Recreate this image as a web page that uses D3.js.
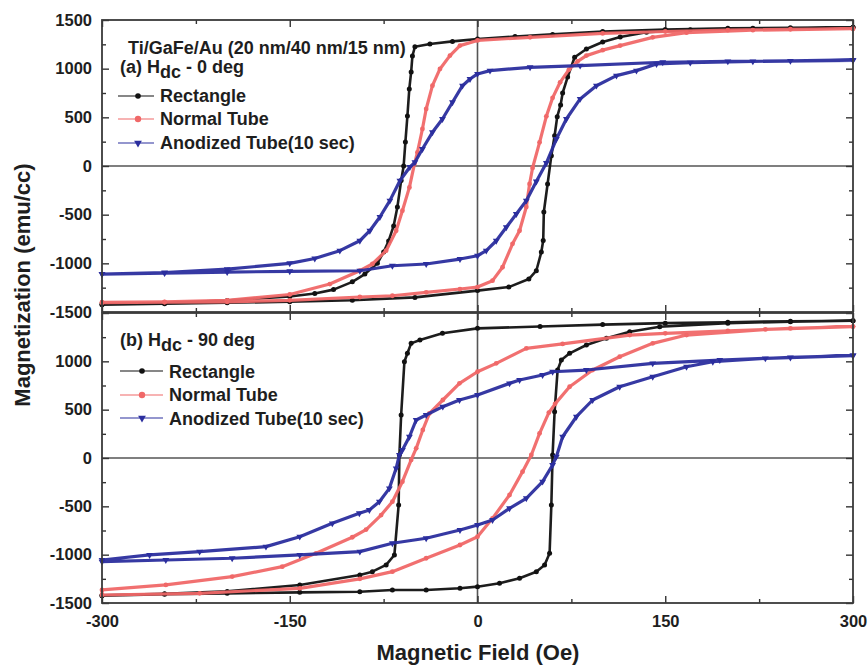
<!DOCTYPE html>
<html><head><meta charset="utf-8">
<script src="https://cdn.jsdelivr.net/npm/d3@7"></script>
<style>
body{margin:0;background:#fff}
text{font-family:"Liberation Sans",Arial,sans-serif;font-weight:bold;fill:#1e1e1e}
</style>
</head><body>
<svg id="c" width="868" height="667"></svg>
<script>
// ---------- tick values ----------
const xTicks = [-300, -150, 0, 150, 300];
const xMinor = [-225, -75, 75, 225];
const yTicks = [-1500, -1000, -500, 0, 500, 1000, 1500];
const yMinor = [-1250, -750, -250, 250, 750, 1250];
const seriesNames = ["Rectangle", "Normal Tube", "Anodized Tube(10 sec)"];

// ---------- panel (a) H_dc 0 deg : [field Oe, magnetization emu/cc] ----------
const aRectDown = [[300,1425],[250,1420],[200,1415],[150,1402],[100,1382],[60,1352],[30,1330],[0,1305],[-20,1280],[-38,1254],[-50,1225],[-52,1130],[-53,966],[-54.5,790],[-56,514],[-57.6,247],[-59,0],[-61,-150],[-64,-421],[-67,-616],[-71,-770],[-75,-884],[-80,-1000],[-90,-1110],[-100,-1190],[-115,-1270],[-130,-1310],[-150,-1340],[-200,-1382],[-250,-1405],[-300,-1420]];
const aRectUp = [[-300,-1425],[-250,-1415],[-200,-1405],[-150,-1395],[-100,-1380],[-50,-1350],[0,-1280],[25,-1244],[41,-1161],[47,-1076],[51,-884],[52.5,-765],[53,-473],[56,-185],[59,106],[61.6,311],[63.7,507],[66.4,627],[68,750],[72,914],[77.6,1117],[87,1202],[100,1274],[114,1326],[135,1374],[170,1400],[220,1415],[300,1425]];
const aNormDown = [[300,1410],[250,1405],[200,1395],[150,1382],[100,1362],[42,1322],[0,1290],[-14,1237],[-22,1134],[-30,997],[-36,825],[-41,586],[-44,380],[-48,140],[-50.4,20],[-54.4,-220],[-60,-459],[-65,-665],[-73,-870],[-84,-1007],[-94,-1076],[-118,-1213],[-150,-1320],[-200,-1380],[-250,-1395],[-300,-1400]];
const aNormUp = [[-300,-1405],[-250,-1400],[-200,-1395],[-150,-1380],[-94,-1346],[-68,-1333],[-41,-1298],[-14,-1264],[0,-1244],[12,-1178],[20,-1040],[28,-800],[33.6,-665],[39,-421],[41.6,-185],[44,-20],[49.6,243],[55,510],[60,700],[66,860],[73,990],[80,1075],[87,1134],[100,1190],[114,1237],[140,1322],[167,1370],[220,1395],[300,1410]];
const aAnodDown = [[300,1090],[250,1080],[200,1075],[148,1066],[82,1031],[42,1014],[10,980],[0,946],[-6,894],[-12,825],[-20,655],[-28,483],[-36,346],[-44,175],[-50,38],[-54,-10],[-62,-151],[-70,-356],[-78,-524],[-86,-665],[-94,-768],[-110,-870],[-130,-950],[-150,-1000],[-200,-1060],[-250,-1095],[-300,-1110]];
const aAnodUp = [[-300,-1110],[-250,-1100],[-200,-1090],[-150,-1082],[-94,-1076],[-68,-1025],[-41,-1007],[-14,-956],[0,-922],[7,-870],[15,-768],[23,-630],[31,-493],[39,-356],[47,-160],[55,30],[63,277],[71,483],[82,689],[95,825],[111,928],[127,980],[143,1048],[170,1062],[220,1075],[300,1085]];

// ---------- panel (b) H_dc 90 deg ----------
const bRectDown = [[300,1420],[250,1415],[200,1405],[150,1395],[100,1380],[50,1360],[0,1341],[-28,1290],[-46,1220],[-53,1186],[-56,1083],[-58.4,996],[-61,445],[-62.4,31],[-63,-486],[-66.4,-1003],[-73,-1106],[-84,-1176],[-94,-1210],[-142,-1313],[-200,-1380],[-250,-1405],[-300,-1420]];
const bRectUp = [[-300,-1425],[-250,-1410],[-200,-1400],[-142,-1390],[-94,-1383],[-68,-1365],[-41,-1365],[-14,-1348],[0,-1331],[17.6,-1296],[33.6,-1244],[47,-1176],[53.6,-1106],[57.6,-986],[59,-486],[60,31],[61.6,479],[64,910],[67,1013],[73.6,1083],[87,1169],[103,1238],[121.6,1306],[145.6,1358],[200,1395],[250,1410],[300,1420]];
const bNormDown = [[300,1360],[250,1340],[200,1315],[150,1290],[121.6,1272],[68,1180],[39,1134],[15,979],[0,892],[-14.4,772],[-27.7,600],[-38.4,462],[-43.7,290],[-49,100],[-53,-20],[-60,-245],[-68,-452],[-77,-590],[-89,-740],[-100,-820],[-129,-986],[-156,-1124],[-196,-1227],[-249,-1313],[-300,-1365]];
const bNormUp = [[-300,-1417],[-222,-1400],[-142,-1348],[-94,-1250],[-68,-1176],[-41,-1037],[-14,-900],[0,-814],[12,-624],[25.6,-383],[36,-141],[43,31],[49.6,255],[57,470],[62,560],[73.6,737],[92,910],[113.6,1048],[140,1186],[167,1272],[230,1330],[300,1360]];
const bAnodDown = [[300,1060],[250,1040],[193.6,1013],[140,979],[87,910],[60,892],[52,858],[33.6,807],[25.6,772],[0,651],[-14.4,600],[-27.7,531],[-41,445],[-49,393],[-54.4,220],[-60,83],[-62.4,31],[-65,-107],[-70.4,-314],[-78.4,-452],[-86.4,-538],[-94.4,-572],[-116,-676],[-142,-814],[-169,-917],[-222,-969],[-262,-1003],[-300,-1055]];
const bAnodUp = [[-300,-1072],[-249,-1055],[-196,-1037],[-142,-1003],[-94,-969],[-68,-882],[-41,-830],[-14,-745],[0,-693],[12,-641],[25.6,-520],[39,-417],[52,-245],[60,-72],[63,14],[68,220],[79,427],[92,600],[113.6,737],[140,841],[167,944],[188,996],[230,1030],[300,1060]];

// ---------- drawing ----------
const svg = d3.select("#c");
const L = 102, R = 853;
const x = d3.scaleLinear().domain([-300, 300]).range([L, R]);

const colors = ["#111111", "#f06868", "#2b2e9e"];
const panels = [
  {top: 20, bottom: 312, data: [[aRectDown, aRectUp], [aNormDown, aNormUp], [aAnodDown, aAnodUp]], showTop1500: true, xLabels: false},
  {top: 313, bottom: 603, data: [[bRectDown, bRectUp], [bNormDown, bNormUp], [bAnodDown, bAnodUp]], showTop1500: false, xLabels: true}
];

const triDown = d3.symbol().type(d3.symbolTriangle).size(20);

panels.forEach((p, pi) => {
  const y = d3.scaleLinear().domain([-1500, 1500]).range([p.bottom, p.top]);
  const g = svg.append("g");

  // zero lines
  g.append("line").attr("x1", L).attr("x2", R).attr("y1", y(0)).attr("y2", y(0))
    .attr("stroke", "#555").attr("stroke-width", 1.6);
  g.append("line").attr("x1", x(0)).attr("x2", x(0)).attr("y1", p.top).attr("y2", p.bottom)
    .attr("stroke", "#555").attr("stroke-width", 1.6);

  // data
  const line = d3.line().x(d => x(d[0])).y(d => y(d[1]));
  p.data.forEach((branches, si) => {
    const pts = branches[0].concat(branches[1]);
    g.append("path").attr("d", line(pts)).attr("fill", "none")
      .attr("stroke", colors[si]).attr("stroke-width", si === 0 ? 2.6 : 3.2)
      .attr("stroke-linejoin", "round").attr("opacity", 0.95);
    const mg = g.append("g");
    if (si === 2) {
      mg.selectAll("path").data(pts).join("path")
        .attr("d", triDown).attr("transform", d => `translate(${x(d[0])},${y(d[1])}) rotate(180)`)
        .attr("fill", colors[si]);
    } else {
      mg.selectAll("circle").data(pts).join("circle")
        .attr("cx", d => x(d[0])).attr("cy", d => y(d[1])).attr("r", si === 0 ? 2.5 : 2.4)
        .attr("fill", colors[si]);
    }
  });

  // axes
  const styleAxis = sel => {
    sel.select(".domain").remove();
    sel.selectAll(".tick line").attr("stroke", "#333").attr("stroke-width", 1.4);
    sel.selectAll("text").style("font-size", "16.5px").attr("fill", "#1e1e1e");
  };
  const leftFmt = d => (!p.showTop1500 && d === 1500) ? "" : String(d);
  g.append("g").attr("transform", `translate(${L},0)`)
    .call(d3.axisLeft(y).tickValues(yTicks).tickSize(-7).tickPadding(10).tickFormat(leftFmt)).call(styleAxis);
  g.append("g").attr("transform", `translate(${L},0)`)
    .call(d3.axisLeft(y).tickValues(yMinor).tickSize(-4).tickFormat("")).call(styleAxis);
  g.append("g").attr("transform", `translate(${R},0)`)
    .call(d3.axisRight(y).tickValues(yTicks).tickSize(-7).tickFormat("")).call(styleAxis);
  g.append("g").attr("transform", `translate(${R},0)`)
    .call(d3.axisRight(y).tickValues(yMinor).tickSize(-4).tickFormat("")).call(styleAxis);
  g.append("g").attr("transform", `translate(0,${p.top})`)
    .call(d3.axisTop(x).tickValues(xTicks).tickSize(-7).tickFormat("")).call(styleAxis);
  g.append("g").attr("transform", `translate(0,${p.top})`)
    .call(d3.axisTop(x).tickValues(xMinor).tickSize(-4).tickFormat("")).call(styleAxis);
  g.append("g").attr("transform", `translate(0,${p.bottom})`)
    .call(d3.axisBottom(x).tickValues(xTicks).tickSize(-7).tickPadding(12)
      .tickFormat(p.xLabels ? (d => String(d)) : "")).call(styleAxis);
  g.append("g").attr("transform", `translate(0,${p.bottom})`)
    .call(d3.axisBottom(x).tickValues(xMinor).tickSize(-4).tickFormat("")).call(styleAxis);

  // frame
  g.append("rect").attr("x", L).attr("y", p.top).attr("width", R - L).attr("height", p.bottom - p.top)
    .attr("fill", "none").attr("stroke", "#3a3a3a").attr("stroke-width", 1.8);
});

// ---------- annotations & legends ----------
const fs = "18px";
svg.append("text").attr("x", 128).attr("y", 54).style("font-size", fs).text("Ti/GaFe/Au (20 nm/40 nm/15 nm)");

function hdc(xp, yp, label, rest) {
  const t = svg.append("text").attr("x", xp).attr("y", yp).style("font-size", fs);
  t.append("tspan").text(label + " H");
  t.append("tspan").attr("dy", 5).text("dc");
  t.append("tspan").attr("dy", -5).text(" - " + rest);
}
hdc(120, 73, "(a)", "0 deg");
hdc(120, 346, "(b)", "90 deg");

function legend(x1, x2, xm, xt, ys, yt) {
  seriesNames.forEach((name, i) => {
    svg.append("line").attr("x1", x1).attr("x2", x2).attr("y1", ys[i]).attr("y2", ys[i])
      .attr("stroke", colors[i]).attr("stroke-width", 1.1);
    if (i === 2) {
      svg.append("path").attr("d", d3.symbol().type(d3.symbolTriangle).size(26))
        .attr("transform", `translate(${xm},${ys[i]}) rotate(180)`).attr("fill", colors[i]);
    } else {
      svg.append("circle").attr("cx", xm).attr("cy", ys[i]).attr("r", i === 0 ? 2.8 : 3.2).attr("fill", colors[i]);
    }
    svg.append("text").attr("x", xt).attr("y", yt[i]).style("font-size", fs).text(name);
  });
}
legend(118, 154, 138, 160, [96, 119, 143], [102, 125, 149]);
legend(120, 163, 142, 169, [371, 395, 418], [378, 401, 425]);

// ---------- axis titles ----------
svg.append("text").attr("x", 478).attr("y", 660).attr("text-anchor", "middle")
  .style("font-size", "22px").text("Magnetic Field (Oe)");
svg.append("text").attr("transform", "translate(30,285) rotate(-90)").attr("text-anchor", "middle")
  .style("font-size", "22px").text("Magnetization (emu/cc)");
</script>
</body></html>
